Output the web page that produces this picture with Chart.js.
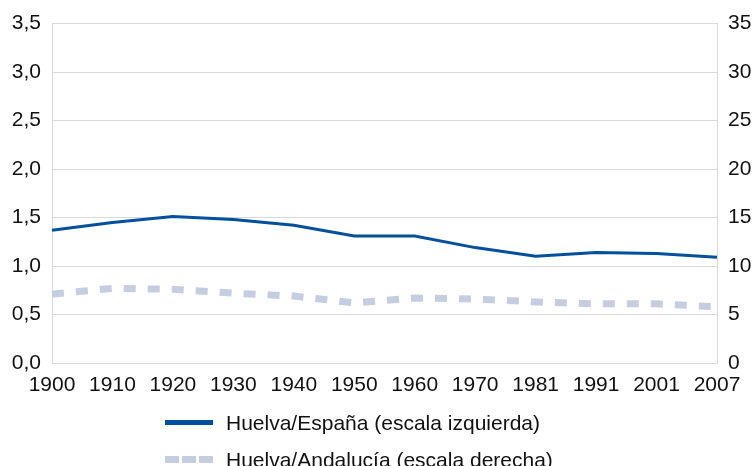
<!DOCTYPE html>
<html>
<head>
<meta charset="utf-8">
<script src="https://cdn.jsdelivr.net/npm/chart.js@4/dist/chart.umd.min.js"></script>
<style>
  html, body { margin: 0; padding: 0; background: #fff; }
  #wrap { position: relative; width: 754px; height: 466px; }
  #legend { position: absolute; left: 165px; top: 404px; font-family: "Liberation Sans", Arial, sans-serif; font-size: 21px; color: #111; }
  .item { display: flex; align-items: center; height: 37px; }
  .swatch { width: 48px; height: 0; margin-right: 13px; }
</style>
</head>
<body>
<div id="wrap">
  <canvas id="chart" width="754" height="466"></canvas>
  <div id="legend"></div>
</div>
<script>
// años del censo
const years = ['1900', '1910', '1920', '1930', '1940', '1950', '1960', '1970', '1981', '1991', '2001', '2007'];
// Huelva/España (escala izquierda)
const huelvaEspana = [1.37, 1.45, 1.51, 1.48, 1.42, 1.31, 1.31, 1.19, 1.10, 1.14, 1.13, 1.09];
// Huelva/Andalucía (escala derecha)
const huelvaAndalucia = [7.1, 7.7, 7.6, 7.2, 6.9, 6.2, 6.7, 6.6, 6.3, 6.1, 6.1, 5.8];

const labelEspana = 'Huelva/España (escala izquierda)';
const labelAndalucia = 'Huelva/Andalucía (escala derecha)';

const font = { family: '"Liberation Sans", Arial, sans-serif', size: 21 };
const gridColor = '#D9D9D9';

const config = {
  type: 'line',
  data: {
    labels: years,
    datasets: [
      {
        label: labelAndalucia,
        data: huelvaAndalucia,
        yAxisID: 'y1',
        borderColor: '#C5CDE0',
        borderWidth: 7,
        borderDash: [12, 12],
        pointRadius: 0,
        tension: 0,
        fill: false,
      },
      {
        label: labelEspana,
        data: huelvaEspana,
        yAxisID: 'y',
        borderColor: '#00509E',
        borderWidth: 3,
        pointRadius: 0,
        tension: 0,
        fill: false,
      },
    ],
  },
  options: {
    responsive: false,
    animation: false,
    layout: { padding: { top: 23, left: 0, right: 0, bottom: 0 } },
    scales: {
      x: {
        offset: false,
        grid: { display: false, drawTicks: false },
        border: { color: gridColor },
        ticks: { color: '#111', font: font, padding: 10, maxRotation: 0, autoSkip: false },
        afterFit: (s) => { s.height = 103; },
      },
      y: {
        position: 'left',
        min: 0,
        max: 3.5,
        grid: { color: gridColor, drawTicks: false },
        border: { color: gridColor },
        ticks: {
          stepSize: 0.5,
          color: '#111',
          font: font,
          padding: 11,
          callback: (v) => v.toFixed(1).replace('.', ','),
        },
        afterFit: (s) => { s.width = 52; },
      },
      y1: {
        position: 'right',
        min: 0,
        max: 35,
        grid: { display: false, drawTicks: false },
        border: { color: gridColor },
        ticks: { stepSize: 5, color: '#111', font: font, padding: 11 },
        afterFit: (s) => { s.width = 37; },
      },
    },
    plugins: {
      legend: { display: false },
      tooltip: { enabled: false },
    },
  },
};

const ctx = document.getElementById('chart').getContext('2d');
const myChart = new Chart(ctx, config);

// leyenda en dos filas, como el original
const legend = document.getElementById('legend');
[
  { text: labelEspana, border: '5px solid #00509E' },
  { text: labelAndalucia, border: '7px dashed #C5CDE0' },
].forEach((it) => {
  const row = document.createElement('div');
  row.className = 'item';
  const sw = document.createElement('span');
  sw.className = 'swatch';
  sw.style.borderTop = it.border;
  const tx = document.createElement('span');
  tx.textContent = it.text;
  row.appendChild(sw);
  row.appendChild(tx);
  legend.appendChild(row);
});
</script>
</body>
</html>
